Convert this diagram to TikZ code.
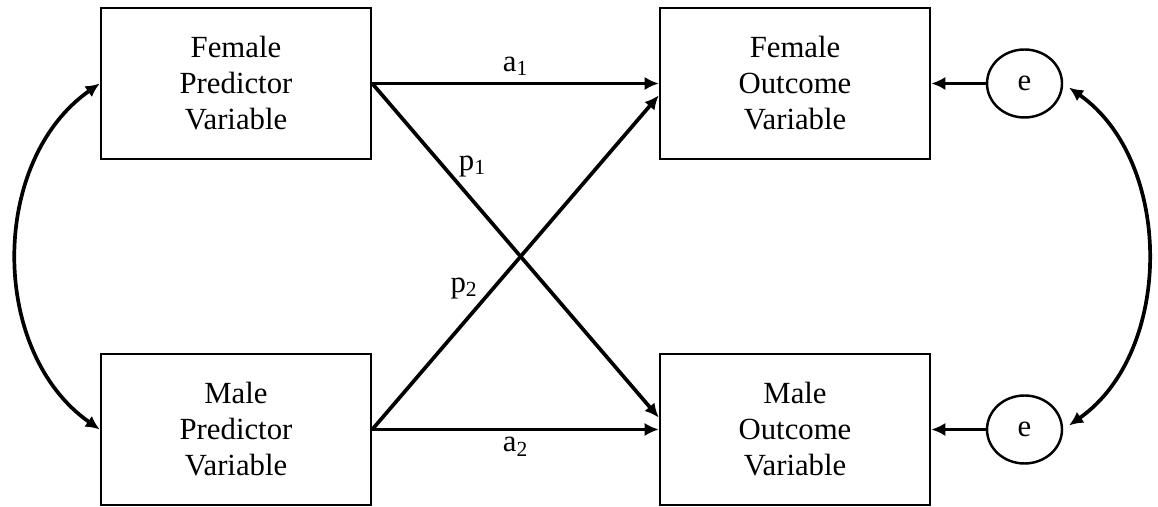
\documentclass[tikz,border=0pt]{standalone}
\usepackage{fontspec}
\setmainfont{Liberation Serif}
\usepackage{tikz}
\usetikzlibrary{arrows.meta,positioning,shapes.geometric}

\tikzset{
  varbox/.style={draw, line width=1.4pt, minimum width=5.4cm,
    minimum height=3.02cm, align=center},
  errnode/.style={ellipse, draw, line width=1.4pt, minimum width=1.5cm,
    minimum height=1.36cm, inner sep=0pt},
  effect/.style={->, line width=2.1pt}
}

\begin{document}
\begin{tikzpicture}[
font=\fontsize{17.5}{20.5}\selectfont,
>={Latex[length=8pt,width=7.5pt]}]
    % Frame
    \useasboundingbox (0,0) rectangle (23.16,10.14);

    % Draw variables
    \node[varbox] (fpred) at (4.72,8.47) {Female\\Predictor\\Variable};
    \node[varbox] (mpred) at (4.72,1.55) {Male\\Predictor\\Variable};
    \node[varbox] (fout) at (15.90,8.47) {Female\\Outcome\\Variable};
    \node[varbox] (mout) at (15.90,1.55) {Male\\Outcome\\Variable};
    \node[errnode] (efem) at (20.49,8.47) {e};
    \node[errnode] (emale) at (20.49,1.55) {e};

    % Draw paths
    \draw[effect] (fpred.east) -- node[above] {a\textsubscript{1}} (fout.west);
    \draw[effect] (mpred.east) -- node[below] {a\textsubscript{2}} (mout.west);
    \draw[effect] (fpred.east) -- node[pos=0.29, above right, inner sep=1pt] {p\textsubscript{1}} (mout.175);
    \draw[effect] (mpred.east) -- node[pos=0.38, above left, inner sep=1pt] {p\textsubscript{2}} (fout.185);
    \draw[effect] (efem.west) -- (fout.east);
    \draw[effect] (emale.west) -- (mout.east);

    % Covariances
    \draw[<->, line width=2.1pt] (fpred.west) to[out=215, in=145] (mpred.west);
    \draw[<->, line width=2.1pt, shorten <=4pt, shorten >=4pt]
        (efem.east) to[out=-35, in=35] (emale.east);
\end{tikzpicture}
\end{document}
